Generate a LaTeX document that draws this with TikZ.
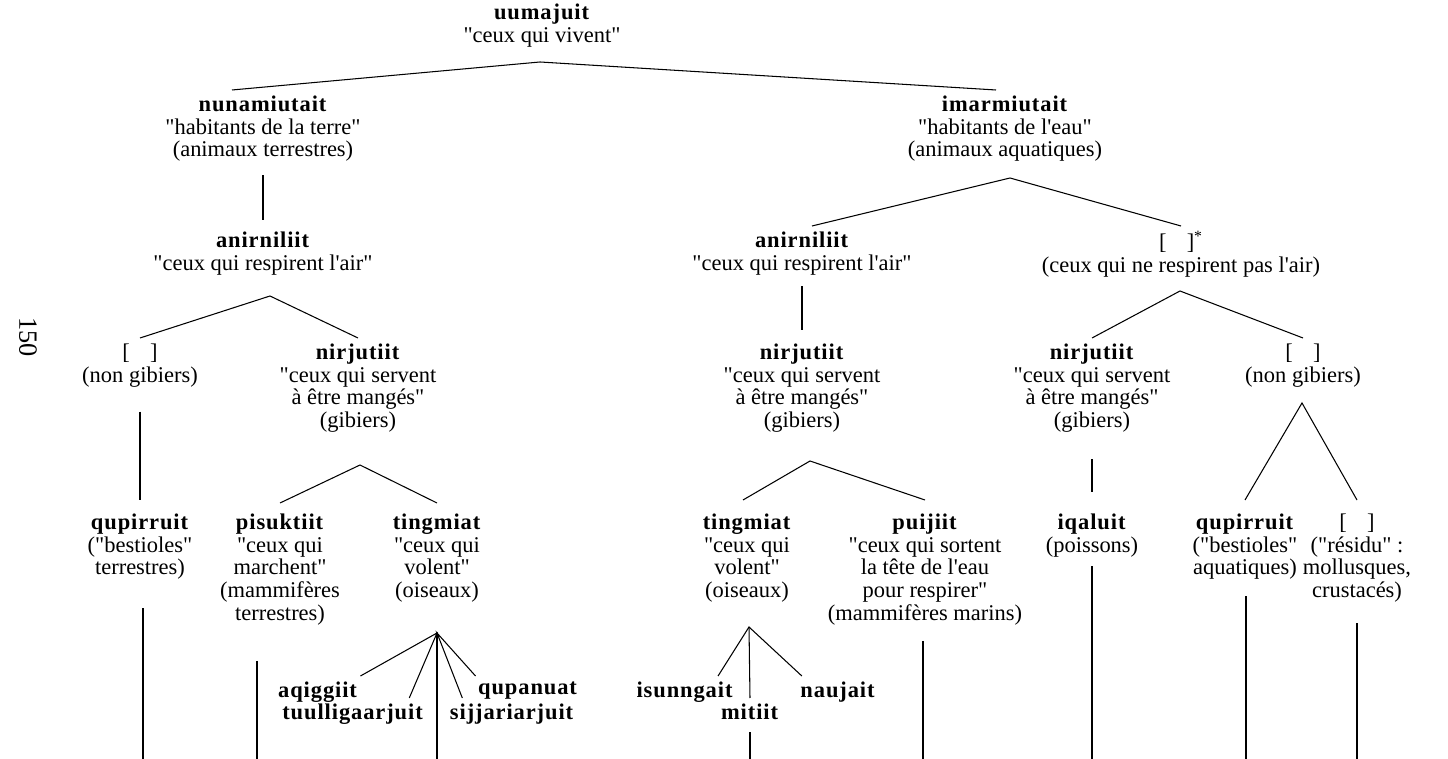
\documentclass[tikz,border=0pt]{standalone}
\usepackage{fontspec}
\newfontfamily\pgfont{Liberation Serif}[BoldFeatures={LetterSpace=4}]
\usetikzlibrary{positioning}

\tikzset{
  taxon/.style={align=center, inner sep=3pt, anchor=north,
    font=\pgfont\fontsize{12.8}{13}\selectfont},
  link/.style={line width=0.6pt},
}
\newcommand{\blank}{[\hspace{0.9em}]}

\begin{document}
\begin{tikzpicture}[x=0.02cm,y=-0.02cm]
    \useasboundingbox (0,0) rectangle (1448,759);
    \coordinate (bot) at (0,759);

    \node[font=\pgfont\fontsize{15}{15}\selectfont,rotate=-90] (page) at (28,337) {150};

    % level 0-1
    \node[taxon] (root) at (542,-2) {\textbf{uumajuit}\\"ceux qui vivent"};
    \node[taxon] (nuna) at (263,90) {\textbf{nunamiutait}\\"habitants de la terre"\\(animaux terrestres)};
    \node[taxon] (imar) at (1005,90) {\textbf{imarmiutait}\\"habitants de l'eau"\\(animaux aquatiques)};

    % level 2
    \node[taxon] (anL) at (263,226) {\textbf{anirniliit}\\"ceux qui respirent l'air"};
    \node[taxon] (anR) at (802,226) {\textbf{anirniliit}\\"ceux qui respirent l'air"};
    \node[taxon] (nbr) at (1181,226) {\blank\textsuperscript{*}\\(ceux qui ne respirent pas l'air)};

    % level 3
    \node[taxon] (ngL) at (140,338) {\blank\\(non gibiers)};
    \node[taxon] (nirL) at (358,338) {\textbf{nirjutiit}\\"ceux qui servent\\à être mangés"\\(gibiers)};
    \node[taxon] (nirM) at (802,338) {\textbf{nirjutiit}\\"ceux qui servent\\à être mangés"\\(gibiers)};
    \node[taxon] (nirR) at (1092,338) {\textbf{nirjutiit}\\"ceux qui servent\\à être mangés"\\(gibiers)};
    \node[taxon] (ngR) at (1303,338) {\blank\\(non gibiers)};

    % level 4
    \node[taxon] (qupL) at (140,508) {\textbf{qupirruit}\\("bestioles"\\terrestres)};
    \node[taxon] (pisu) at (280,508) {\textbf{pisuktiit}\\"ceux qui\\marchent"\\(mammifères\\terrestres)};
    \node[taxon] (tingL) at (437,508) {\textbf{tingmiat}\\"ceux qui\\volent"\\(oiseaux)};
    \node[taxon] (tingR) at (747,508) {\textbf{tingmiat}\\"ceux qui\\volent"\\(oiseaux)};
    \node[taxon] (puij) at (925,508) {\textbf{puijiit}\\"ceux qui sortent\\la tête de l'eau\\pour respirer"\\(mammifères marins)};
    \node[taxon] (iqal) at (1092,508) {\textbf{iqaluit}\\(poissons)};
    \node[taxon] (qupR) at (1245,508) {\textbf{qupirruit}\\("bestioles"\\aquatiques)};
    \node[taxon] (resid) at (1357,508) {\blank\\("résidu" :\\mollusques,\\crustacés)};

    % birds
    \node[taxon] (aqig) at (318,676) {\textbf{aqiggiit}};
    \node[taxon] (tuul) at (353,698) {\textbf{tuulligaarjuit}};
    \node[taxon] (qupa) at (528,676) {\textbf{qupanuat}};
    \node[taxon] (sijj) at (512,698) {\textbf{sijjariarjuit}};
    \node[taxon] (isun) at (685,676) {\textbf{isunngait}};
    \node[taxon] (nauj) at (838,676) {\textbf{naujait}};
    \node[taxon] (miti) at (750,698) {\textbf{mitiit}};

    % branching points
    \coordinate (root-f) at (540,62);
    \coordinate (anL-f) at (270,296);
    \coordinate (imar-f) at (1010,178);
    \coordinate (nbr-f) at (1180,291);
    \coordinate (nirL-f) at (360,465);
    \coordinate (nirM-f) at (810,461);
    \coordinate (ngR-f) at (1302,403);
    \coordinate (tingL-f) at (437,633);
    \coordinate (tingR-f) at (749,627);

    \draw[link] ([xshift=-0.62cm]nuna.north) -- (root-f) -- ([xshift=-0.18cm]imar.north);
    \draw[link] ([yshift=-0.16cm]nuna.south) -- ([yshift=0.12cm]anL.north);
    \draw[link] (ngL.north) -- (anL-f) -- (nirL.north);
    \draw[link] ([xshift=0.2cm]anR.north) -- (imar-f) -- (nbr.north);
    \draw[link] ([yshift=-0.12cm]anR.south) -- ([yshift=0.16cm]nirM.north);
    \draw[link] (nirR.north) -- (nbr-f) -- (ngR.north);
    \draw[link] ([yshift=-0.38cm]ngL.south) -- ([yshift=0.16cm]qupL.north);
    \draw[link] ([yshift=0.1cm]pisu.north) -- (nirL-f) -- ([yshift=0.1cm]tingL.north);
    \draw[link] ([xshift=-0.08cm,yshift=0.16cm]tingR.north) -- (nirM-f) -- ([yshift=0.16cm]puij.north);
    \draw[link] ([yshift=-0.42cm]nirR.south) -- ([yshift=0.32cm]iqal.north);
    \draw[link] ([yshift=0.16cm]qupR.north) -- (ngR-f) -- ([yshift=0.16cm]resid.north);

    % bird fans
    \draw[link] ([xshift=-0.06cm]aqig.north east) -- (tingL-f) -- ([xshift=-0.4cm]tuul.north east);
    \draw[link] ([xshift=0.36cm]sijj.north west) -- (tingL-f) -- ([xshift=0.06cm]qupa.north west);
    \draw[link] (tingL-f) -- (tingL-f |- bot);
    \draw[link] ([xshift=-0.42cm]isun.north east) -- (tingR-f) -- ([xshift=0.14cm]nauj.north west);
    \draw[link] (tingR-f) -- (miti.north);

    % lines running on to the next page
    \draw[link] ([xshift=0.06cm,yshift=-0.46cm]qupL.south) coordinate (t1) -- (t1 |- bot);
    \draw[link] ([xshift=-0.46cm,yshift=-0.6cm]pisu.south) coordinate (t2) -- (t2 |- bot);
    \draw[link] ([yshift=-0.14cm]miti.south) coordinate (t3) -- (t3 |- bot);
    \draw[link] ([xshift=-0.04cm,yshift=-0.2cm]puij.south) coordinate (t4) -- (t4 |- bot);
    \draw[link] ([yshift=-0.08cm]iqal.south) coordinate (t5) -- (t5 |- bot);
    \draw[link] ([xshift=0.02cm,yshift=-0.22cm]qupR.south) coordinate (t6) -- (t6 |- bot);
    \draw[link] ([yshift=-0.3cm]resid.south) coordinate (t7) -- (t7 |- bot);
\end{tikzpicture}
\end{document}
